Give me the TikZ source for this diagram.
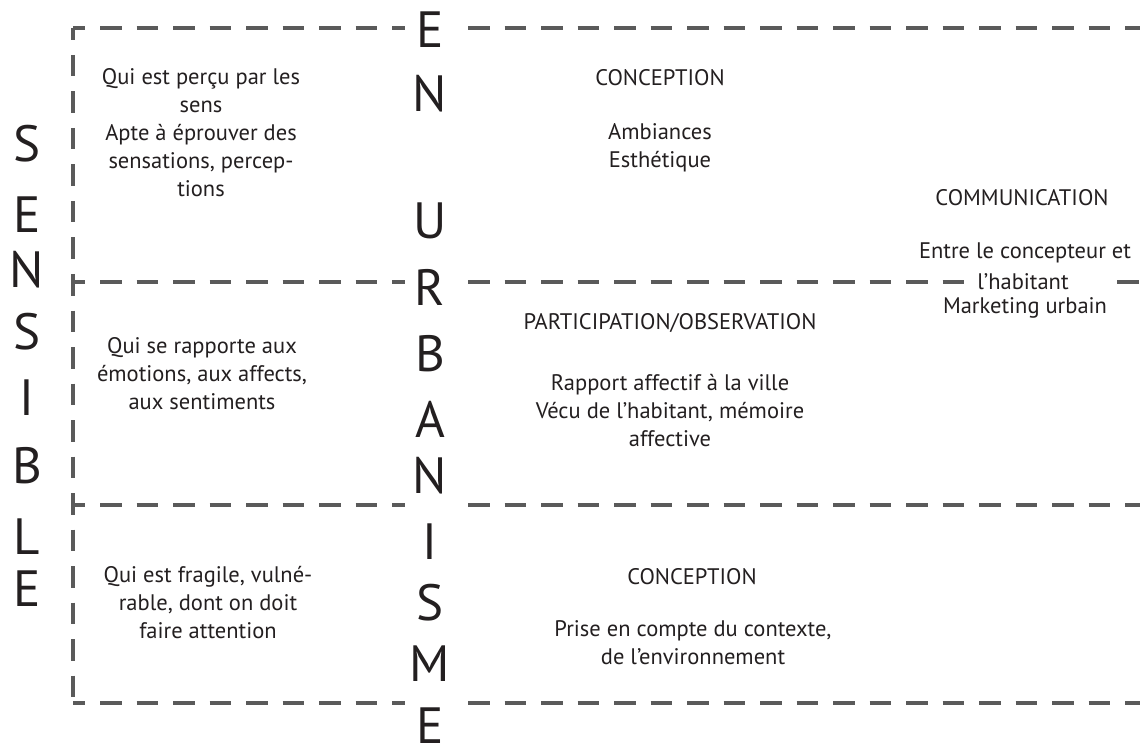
\documentclass[tikz,border=0pt]{standalone}
\usepackage{fontspec}
\setmainfont{PT Sans}
\definecolor{txt}{HTML}{231F20}
\definecolor{lgray}{HTML}{5A5A5A}
\tikzset{
  body/.style={font=\fontsize{22.5}{28}\selectfont, text=txt, align=center, inner sep=0pt},
  big/.style={font=\fontsize{51}{51}\selectfont, text=txt, inner sep=0pt},
  dline/.style={draw=lgray, line width=4pt, dash pattern=on 21.5pt off 15pt, dash phase=9.5pt},
}
\begin{document}
\begin{tikzpicture}[x=1pt,y=-1pt]
\useasboundingbox[fill=white] (0,0) rectangle (1140,751);

% dashed frame
\draw[dline] (73,28) -- (73,703);
\foreach \yy in {28,505,703}{
  \draw[dline] (73,\yy) -- (405,\yy);
  \draw[dline, dash phase=0pt] (468,\yy) -- (1140,\yy);
}
\draw[dline] (73,282) -- (405,282);
\draw[dline, dash phase=0pt] (468,282) -- (972,282);
\draw[dline, dash phase=0pt] (1117,282) -- (1140,282);

% SENSIBLE
\node[big] (s1) at (27,144) {S};
\node[big] (s2) at (27,215) {E};
\node[big] (s3) at (27,270) {N};
\node[big] (s4) at (27,332) {S};
\node[big] (s5) at (27,398) {I};
\node[big] (s6) at (27,466) {B};
\node[big] (s7) at (27,537) {L};
\node[big] (s8) at (27,589) {E};

% URBANISME
\node[big] (u1) at (430,30) {E};
\node[big] (u2) at (430,94) {N};
\node[big] (u3) at (430,221) {U};
\node[big] (u4) at (430,287) {R};
\node[big] (u5) at (430,354) {B};
\node[big] (u6) at (430,419) {A};
\node[big] (u7) at (430,476) {N};
\node[big] (u8) at (430,542) {I};
\node[big] (u9) at (430,603) {S};
\node[big] (u10) at (430,664) {M};
\node[big] (u11) at (430,726) {E};

% left column
\node[body] (l1) at (201,133) {Qui est perçu par les\\sens\\Apte à éprouver des\\sensations, percep-\\tions};
\node[body] (l2) at (202,374) {Qui se rapporte aux\\émotions, aux affects,\\aux sentiments};
\node[body] (l3) at (208,603) {Qui est fragile, vulné-\\rable, dont on doit\\faire attention};

% middle column
\node[body] (c1t) at (660,78) {CONCEPTION};
\node[body] (c1) at (660,148) {Ambiances\\Esthétique};
\node[body] (c2t) at (670,323) {PARTICIPATION/OBSERVATION};
\node[body] (c2) at (670,411) {Rapport affectif à la ville\\Vécu de l’habitant, mémoire\\affective};
\node[body] (c3t) at (692,577) {CONCEPTION};
\node[body] (c3) at (693,643) {Prise en compte du contexte,\\de l’environnement};

% right column
\node[body] (rt) at (1022,198) {COMMUNICATION};
\node[body] (r1) at (1025,253) {Entre le concepteur et};
\node[body] (r2) at (1023,282) {l’habitant};
\node[body] (r3) at (1025,308) {Marketing urbain};
\end{tikzpicture}
\end{document}
